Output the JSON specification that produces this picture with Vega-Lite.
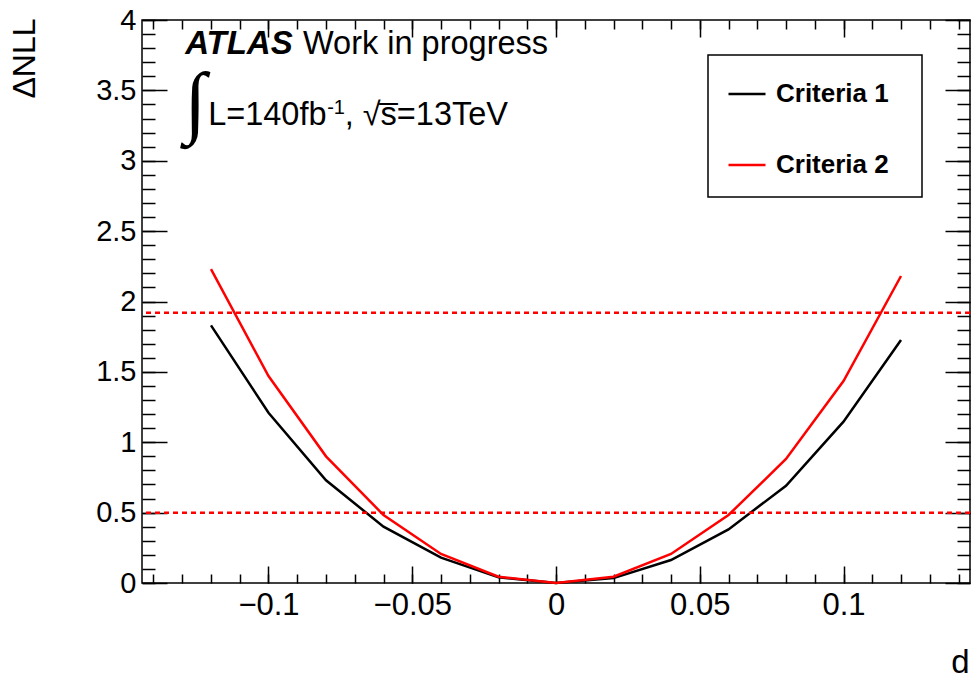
{
  "$schema": "https://vega.github.io/schema/vega-lite/v6.json",
  "width": 828,
  "height": 563,
  "autosize": {"type": "none"},
  "padding": {"left": 142, "top": 20, "right": 2, "bottom": 95},
  "background": "white",
  "config": {
    "view": {"stroke": "#000", "strokeWidth": 1.5},
    "font": "Liberation Sans",
    "axis": {
      "domain": false, "grid": false, "tickColor": "#000", "tickWidth": 1.5,
      "labelColor": "#000", "titleColor": "#000", "labelFont": "Liberation Sans",
      "titleFont": "Liberation Sans", "titleFontWeight": "normal",
      "labelOverlap": false, "labelFlush": false
    }
  },
  "datasets": {
    "curves": [
      {"x": -0.12, "y": 1.83, "series": "Criteria 1"},
      {"x": -0.10, "y": 1.21, "series": "Criteria 1"},
      {"x": -0.08, "y": 0.73, "series": "Criteria 1"},
      {"x": -0.06, "y": 0.40, "series": "Criteria 1"},
      {"x": -0.04, "y": 0.18, "series": "Criteria 1"},
      {"x": -0.02, "y": 0.04, "series": "Criteria 1"},
      {"x": 0.00, "y": 0.0, "series": "Criteria 1"},
      {"x": 0.02, "y": 0.035, "series": "Criteria 1"},
      {"x": 0.04, "y": 0.163, "series": "Criteria 1"},
      {"x": 0.06, "y": 0.381, "series": "Criteria 1"},
      {"x": 0.08, "y": 0.691, "series": "Criteria 1"},
      {"x": 0.10, "y": 1.146, "series": "Criteria 1"},
      {"x": 0.12, "y": 1.726, "series": "Criteria 1"},
      {"x": -0.12, "y": 2.23, "series": "Criteria 2"},
      {"x": -0.10, "y": 1.47, "series": "Criteria 2"},
      {"x": -0.08, "y": 0.90, "series": "Criteria 2"},
      {"x": -0.06, "y": 0.483, "series": "Criteria 2"},
      {"x": -0.04, "y": 0.206, "series": "Criteria 2"},
      {"x": -0.02, "y": 0.045, "series": "Criteria 2"},
      {"x": 0.00, "y": 0.0, "series": "Criteria 2"},
      {"x": 0.02, "y": 0.045, "series": "Criteria 2"},
      {"x": 0.04, "y": 0.206, "series": "Criteria 2"},
      {"x": 0.06, "y": 0.483, "series": "Criteria 2"},
      {"x": 0.08, "y": 0.881, "series": "Criteria 2"},
      {"x": 0.10, "y": 1.435, "series": "Criteria 2"},
      {"x": 0.12, "y": 2.181, "series": "Criteria 2"}
    ]
  },
  "resolve": {"axis": {"x": "independent", "y": "independent"}},
  "layer": [
    {
      "data": {"name": "curves"},
      "mark": {"type": "line", "strokeWidth": 2.5},
      "encoding": {
        "x": {"field": "x", "type": "quantitative",
          "scale": {"domain": [-0.144, 0.144], "nice": false, "zero": false},
          "axis": {"orient": "bottom", "values": [-0.1, -0.05, 0, 0.05, 0.1], "format": "~g",
            "tickSize": -17, "labelFontSize": 31, "labelPadding": 24,
            "title": "d", "titleFontSize": 33, "titleAnchor": "end", "titleAlign": "right",
            "titleX": 827, "titleY": 89, "titleBaseline": "alphabetic"}},
        "y": {"field": "y", "type": "quantitative",
          "scale": {"domain": [0, 4], "nice": false, "zero": false},
          "axis": {"orient": "left", "values": [0, 0.5, 1, 1.5, 2, 2.5, 3, 3.5, 4], "format": "~g",
            "tickSize": -25, "labelFontSize": 29, "labelPadding": 31,
            "title": "ΔNLL", "titleFontSize": 32, "titleAngle": 270, "titleAlign": "right",
            "titleBaseline": "alphabetic", "titleX": -108, "titleY": -2}},
        "color": {"field": "series", "type": "nominal",
          "scale": {"domain": ["Criteria 1", "Criteria 2"], "range": ["#000000", "#ff0000"]},
          "legend": {"title": "x", "titleOrient": "right", "titleFontSize": 10, "titlePadding": 8,
            "titleOpacity": 0,
            "orient": "none", "legendX": 566, "legendY": 35,
            "strokeColor": "#000", "padding": 19, "rowPadding": 38,
            "symbolType": "stroke", "symbolSize": 1369, "symbolStrokeWidth": 2.5,
            "labelFont": "Liberation Sans", "labelFontWeight": "bold", "labelFontSize": 26,
            "labelColor": "#000", "labelOffset": 9,
            "encode": {"legend": {"update": {"strokeWidth": {"value": 1.5}}}}}}
      }
    },
    {
      "data": {"name": "curves"},
      "mark": {"type": "point", "opacity": 0},
      "encoding": {
        "x": {"field": "x", "type": "quantitative",
          "scale": {"domain": [-0.144, 0.144], "nice": false, "zero": false},
          "axis": {"orient": "bottom", "values": [-0.14, -0.13, -0.12, -0.11, -0.1, -0.09, -0.08, -0.07, -0.06, -0.05, -0.04, -0.03, -0.02, -0.01, 0, 0.01, 0.02, 0.03, 0.04, 0.05, 0.06, 0.07, 0.08, 0.09, 0.1, 0.11, 0.12, 0.13, 0.14],
            "tickSize": -9, "labels": false, "title": null}},
        "y": {"field": "y", "type": "quantitative",
          "scale": {"domain": [0, 4], "nice": false, "zero": false},
          "axis": {"orient": "left", "values": [0, 0.1, 0.2, 0.3, 0.4, 0.5, 0.6, 0.7, 0.8, 0.9, 1, 1.1, 1.2, 1.3, 1.4, 1.5, 1.6, 1.7, 1.8, 1.9, 2, 2.1, 2.2, 2.3, 2.4, 2.5, 2.6, 2.7, 2.8, 2.9, 3, 3.1, 3.2, 3.3, 3.4, 3.5, 3.6, 3.7, 3.8, 3.9, 4],
            "tickSize": -13, "labels": false, "title": null}}
      }
    },
    {
      "data": {"name": "curves"},
      "mark": {"type": "point", "opacity": 0},
      "encoding": {
        "x": {"field": "x", "type": "quantitative",
          "scale": {"domain": [-0.144, 0.144], "nice": false, "zero": false},
          "axis": {"orient": "top", "values": [-0.1, -0.05, 0, 0.05, 0.1],
            "tickSize": -17, "labels": false, "title": null}},
        "y": {"field": "y", "type": "quantitative",
          "scale": {"domain": [0, 4], "nice": false, "zero": false},
          "axis": {"orient": "right", "values": [0, 0.5, 1, 1.5, 2, 2.5, 3, 3.5, 4],
            "tickSize": -25, "labels": false, "title": null}}
      }
    },
    {
      "data": {"name": "curves"},
      "mark": {"type": "point", "opacity": 0},
      "encoding": {
        "x": {"field": "x", "type": "quantitative",
          "scale": {"domain": [-0.144, 0.144], "nice": false, "zero": false},
          "axis": {"orient": "top", "values": [-0.14, -0.13, -0.12, -0.11, -0.1, -0.09, -0.08, -0.07, -0.06, -0.05, -0.04, -0.03, -0.02, -0.01, 0, 0.01, 0.02, 0.03, 0.04, 0.05, 0.06, 0.07, 0.08, 0.09, 0.1, 0.11, 0.12, 0.13, 0.14],
            "tickSize": -9, "labels": false, "title": null}},
        "y": {"field": "y", "type": "quantitative",
          "scale": {"domain": [0, 4], "nice": false, "zero": false},
          "axis": {"orient": "right", "values": [0, 0.1, 0.2, 0.3, 0.4, 0.5, 0.6, 0.7, 0.8, 0.9, 1, 1.1, 1.2, 1.3, 1.4, 1.5, 1.6, 1.7, 1.8, 1.9, 2, 2.1, 2.2, 2.3, 2.4, 2.5, 2.6, 2.7, 2.8, 2.9, 3, 3.1, 3.2, 3.3, 3.4, 3.5, 3.6, 3.7, 3.8, 3.9, 4],
            "tickSize": -13, "labels": false, "title": null}}
      }
    },
    {
      "data": {"values": [{"level": 0.5}, {"level": 1.92}]},
      "mark": {"type": "rule", "color": "#ff0000", "strokeWidth": 2.5, "strokeDash": [5, 4]},
      "encoding": {
        "y": {"field": "level", "type": "quantitative",
          "scale": {"domain": [0, 4], "nice": false, "zero": false}, "axis": null}
      }
    },
    {
      "data": {"values": [{"px": -0.129, "py": 3.758, "t": "ATLAS"}]},
      "mark": {"type": "text", "align": "left", "baseline": "alphabetic", "font": "Liberation Sans",
        "fontSize": 33, "fontWeight": "bold", "fontStyle": "italic", "color": "#000"},
      "encoding": {
        "x": {"field": "px", "type": "quantitative", "scale": {"domain": [-0.144, 0.144], "nice": false, "zero": false}, "axis": null},
        "y": {"field": "py", "type": "quantitative", "scale": {"domain": [0, 4], "nice": false, "zero": false}, "axis": null},
        "text": {"field": "t"}
      }
    },
    {
      "data": {"values": [
        {"px": -0.088, "py": 3.758, "t": "Work in progress"},
        {"px": -0.121, "py": 3.254, "t": "L=140fb"},
        {"px": -0.0735, "py": 3.254, "t": ",  √s̅=13TeV"}
      ]},
      "mark": {"type": "text", "align": "left", "baseline": "alphabetic", "font": "Liberation Sans",
        "fontSize": 32.5, "color": "#000"},
      "encoding": {
        "x": {"field": "px", "type": "quantitative", "scale": {"domain": [-0.144, 0.144], "nice": false, "zero": false}, "axis": null},
        "y": {"field": "py", "type": "quantitative", "scale": {"domain": [0, 4], "nice": false, "zero": false}, "axis": null},
        "text": {"field": "t"}
      }
    },
    {
      "data": {"values": [{"px": -0.0796, "py": 3.332, "t": "-1"}]},
      "mark": {"type": "text", "align": "left", "baseline": "alphabetic", "font": "Liberation Sans",
        "fontSize": 20, "color": "#000"},
      "encoding": {
        "x": {"field": "px", "type": "quantitative", "scale": {"domain": [-0.144, 0.144], "nice": false, "zero": false}, "axis": null},
        "y": {"field": "py", "type": "quantitative", "scale": {"domain": [0, 4], "nice": false, "zero": false}, "axis": null},
        "text": {"field": "t"}
      }
    },
    {
      "data": {"values": [{"px": -0.1293, "py": 3.23, "t": "∫"}]},
      "mark": {"type": "text", "align": "left", "baseline": "alphabetic", "font": "Liberation Serif",
        "fontSize": 80, "color": "#000"},
      "encoding": {
        "x": {"field": "px", "type": "quantitative", "scale": {"domain": [-0.144, 0.144], "nice": false, "zero": false}, "axis": null},
        "y": {"field": "py", "type": "quantitative", "scale": {"domain": [0, 4], "nice": false, "zero": false}, "axis": null},
        "text": {"field": "t"}
      }
    }
  ]
}
